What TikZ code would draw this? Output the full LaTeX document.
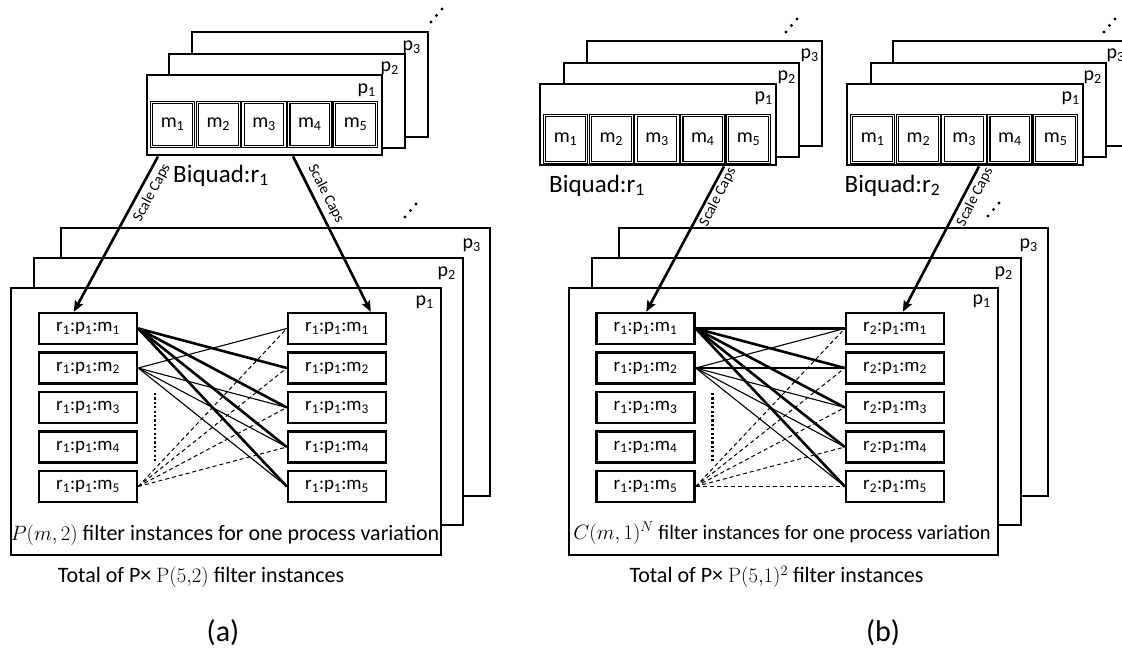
\documentclass[tikz,border=0pt]{standalone}
\usepackage[no-math]{fontspec}
\setmainfont{Carlito}
\usetikzlibrary{arrows.meta,calc}
\newcommand{\instlab}[2]{r\textsubscript{#1}:p\textsubscript{1}:m\textsubscript{#2}}
\newcommand{\fsz}[1]{\fontsize{#1}{#1}\selectfont}
\begin{document}
\begin{tikzpicture}[x=1pt,y=-1pt,
  layer/.style={draw, line width=2.4pt, fill=white, inner sep=0pt, anchor=north west},
  mcell/.style={draw, line width=1.1pt, double, double distance=1.2pt, inner sep=0pt,
    anchor=north west, minimum width=42pt, font=\fsz{20}},
  inst/.style={draw, line width=2.4pt, fill=white, minimum width=98pt, minimum height=31pt,
    inner sep=0pt, font=\fsz{19}},
  plab/.style={anchor=east, inner sep=0pt, font=\fsz{20}},
  biq/.style={anchor=base west, inner sep=0pt, font=\fsz{25}},
  scap/.style={inner sep=0pt, font=\fsz{15}},
  thickc/.style={line width=2.6pt},
  thinc/.style={line width=1.1pt},
  dashc/.style={line width=1pt, dash pattern=on 4pt off 3pt},
  dotc/.style={line width=2.6pt, dash pattern=on 2.2pt off 2.2pt},
  arr/.style={line width=2.6pt, -{Stealth[length=11pt,width=9pt,inset=2pt]}},
  ellip/.pic={\fill (0,0) circle (1.6pt) (5.5,-6.5) circle (1.6pt) (11,-13) circle (1.6pt);}
]
\clip (0,0) rectangle (1122,654);
\fill[white] (0,0) rectangle (1122,654);

% ================= (a) top stack =================
\node[layer, minimum width=236pt, minimum height=105pt] (aP3) at (191,31) {};
\node[layer, minimum width=236pt, minimum height=94pt] (aP2) at (168,53) {};
\node[layer, minimum width=235pt, minimum height=80pt] (aP1) at (146,74) {};
\node[plab] (aP3l) at (421,47) {p\textsubscript{3}};
\node[plab] (aP2l) at (399,68) {p\textsubscript{2}};
\node[plab] (aP1l) at (376,90) {p\textsubscript{1}};
\foreach \i in {1,...,5} {
  \node[mcell, minimum height=44pt] (aM\i) at ({151+45.75*(\i-1)},102) {m\textsubscript{\i}};
}
\node[biq] (aBq) at (173,182) {Biquad:r\textsubscript{1}};
\pic at (431,22) {ellip};

% ================= (a) lower stack =================
\node[layer, minimum width=429pt, minimum height=268pt] (aQ3) at (60,227) {};
\node[layer, minimum width=429pt, minimum height=267pt] (aQ2) at (33,257) {};
\node[layer, minimum width=430pt, minimum height=267pt] (aQ1) at (10,287) {};
\node[plab] (aQ3l) at (481,245) {p\textsubscript{3}};
\node[plab] (aQ2l) at (456,273) {p\textsubscript{2}};
\node[plab] (aQ1l) at (434,302) {p\textsubscript{1}};
\pic at (405,217) {ellip};
\foreach \i in {1,...,5} {
  \node[inst] (aL\i) at (88,{328.5+39.5*(\i-1)}) {\instlab{1}{\i}};
  \node[inst] (aR\i) at (337,{328.5+39.5*(\i-1)}) {\instlab{1}{\i}};
}
\foreach \j in {2,...,5} \draw[thickc] (aL1.east) -- (aR\j.west);
\foreach \j in {1,3,4,5} \draw[thinc] (aL2.east) -- (aR\j.west);
\foreach \j in {1,...,4} \draw[dashc] (aL5.east) -- (aR\j.west);
\coordinate (aDt) at (155,393);
\coordinate (aDb) at (155,462);
\draw[dotc] (aDt) -- (aDb);
\node[font=\fsz{22}] (aTxt) at (225,535) {$P(m,2)$ filter instances for one process variation};
\node[font=\fsz{22}] (aTot) at (201,577) {Total of P× $\mathrm{P}(5{,}2)$ filter instances};
\node[font=\fsz{30}] (aCap) at (223,633) {(a)};

% arrows (a)
\draw[arr] ([xshift=12pt]aP1.south west) -- ([xshift=36pt]aL1.north west);
\draw[arr] ([xshift=147pt]aP1.south west) -- ([xshift=84pt]aR1.north west);
\node[scap, rotate=62] (aS1) at (152,193) {Scale Caps};
\node[scap, rotate=-63] (aS2) at (326,194) {Scale Caps};

% ================= (b) top stacks =================
\node[layer, minimum width=235.5pt, minimum height=105pt] (bP3) at (585.5,40) {};
\node[layer, minimum width=235pt, minimum height=94pt] (bP2) at (563,62) {};
\node[layer, minimum width=236pt, minimum height=81pt] (bP1) at (539,83) {};
\node[plab] (bP3l) at (819,55) {p\textsubscript{3}};
\node[plab] (bP2l) at (796,77) {p\textsubscript{2}};
\node[plab] (bP1l) at (773,98) {p\textsubscript{1}};
\foreach \i in {1,...,5} {
  \node[mcell, minimum height=47pt] (bM\i) at ({544+45.75*(\i-1)},115) {m\textsubscript{\i}};
}
\node[biq] (bBq) at (549,192) {Biquad:r\textsubscript{1}};
\pic at (786,32) {ellip};

\node[layer, minimum width=235pt, minimum height=105pt] (cP3) at (892,40) {};
\node[layer, minimum width=235pt, minimum height=94pt] (cP2) at (870,62) {};
\node[layer, minimum width=236pt, minimum height=81pt] (cP1) at (846,83) {};
\node[plab] (cP3l) at (1125,55) {p\textsubscript{3}};
\node[plab] (cP2l) at (1102,77) {p\textsubscript{2}};
\node[plab] (cP1l) at (1080,98) {p\textsubscript{1}};
\foreach \i in {1,...,5} {
  \node[mcell, minimum height=47pt] (cM\i) at ({851+45.75*(\i-1)},115) {m\textsubscript{\i}};
}
\node[biq] (cBq) at (844.5,192) {Biquad:r\textsubscript{2}};
\pic at (1104,32) {ellip};

% ================= (b) lower stack =================
\node[layer, minimum width=429pt, minimum height=268pt] (bQ3) at (617.5,227) {};
\node[layer, minimum width=429pt, minimum height=267pt] (bQ2) at (590.5,257) {};
\node[layer, minimum width=429pt, minimum height=267pt] (bQ1) at (567.5,287) {};
\node[plab] (bQ3l) at (1038,245) {p\textsubscript{3}};
\node[plab] (bQ2l) at (1013,273) {p\textsubscript{2}};
\node[plab] (bQ1l) at (991,301) {p\textsubscript{1}};
\pic at (988,216) {ellip};
\foreach \i in {1,...,5} {
  \node[inst] (bL\i) at (645.5,{328.5+39.5*(\i-1)}) {\instlab{1}{\i}};
  \node[inst] (bR\i) at (895,{328.5+39.5*(\i-1)}) {\instlab{2}{\i}};
}
\foreach \j in {1,...,5} \draw[thickc] (bL1.east) -- (bR\j.west);
\foreach \j in {1,...,5} \draw[thinc] (bL2.east) -- (bR\j.west);
\foreach \j in {1,...,5} \draw[dashc] (bL5.east) -- (bR\j.west);
\coordinate (bDt) at (712.5,393);
\coordinate (bDb) at (712.5,462);
\draw[dotc] (bDt) -- (bDb);
\node[font=\fsz{20.5}] (bTxt) at (782,533) {$C(m,1)^N$ filter instances for one process variation};
\node[font=\fsz{22}] (bTot) at (776.5,577) {Total of P× $\mathrm{P}(5{,}1)^2$ filter instances};
\node[font=\fsz{30}] (bCap) at (883,633) {(b)};

% arrows (b)
\draw[arr] ([xshift=185pt]bP1.south west) -- ([xshift=51pt]bL1.north west);
\draw[arr] ([xshift=133pt]cP1.south west) -- ([xshift=58pt]bR1.north west);
\node[scap, rotate=63] (bS1) at (718,197) {Scale Caps};
\node[scap, rotate=63] (bS2) at (975,197) {Scale Caps};
\end{tikzpicture}
\end{document}
